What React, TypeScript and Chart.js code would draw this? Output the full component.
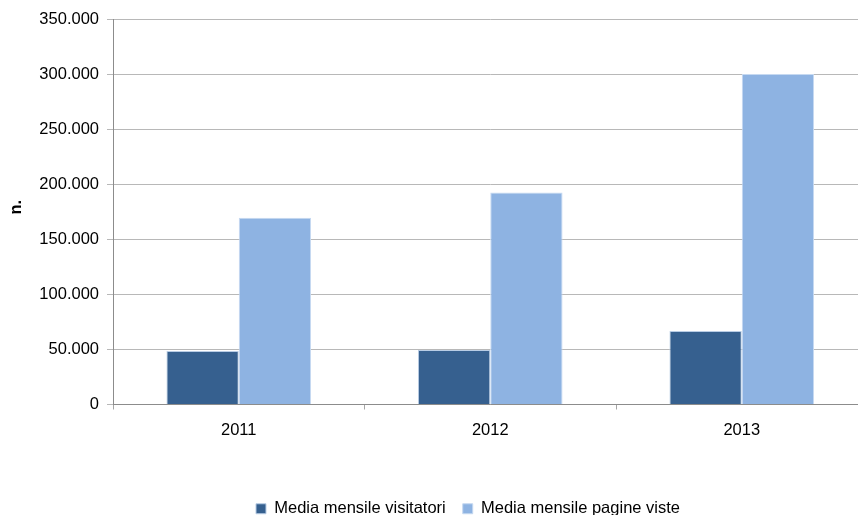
import React, { useEffect, useRef } from "react";
import { Chart, registerables } from "chart.js";

Chart.register(...registerables);

const categories = ["2011", "2012", "2013"];
const visitatori = [48500, 49500, 66700];
const pagineViste = [169500, 192500, 300000];
const seriesNames = ["Media mensile visitatori", "Media mensile pagine viste"];
const yTicks = [0, 50000, 100000, 150000, 200000, 250000, 300000, 350000];

const fmt = (v: number) => String(v).replace(/\B(?=(\d{3})+(?!\d))/g, ".");

export default function App() {
  const ref = useRef<HTMLCanvasElement | null>(null);
  useEffect(() => {
    if (!ref.current) return;
    const font = { family: "'Liberation Sans', Arial, sans-serif", size: 16.5 };
    const chart = new Chart(ref.current, {
      type: "bar",
      data: {
        labels: categories,
        datasets: [
          {
            label: seriesNames[0],
            data: visitatori,
            backgroundColor: "#36608F",
            borderColor: "#B9CDE5",
            borderWidth: 1,
            yAxisID: "y",
          },
          {
            label: seriesNames[1],
            data: pagineViste,
            backgroundColor: "#8EB3E2",
            borderColor: "#C6D9F1",
            borderWidth: 1,
            yAxisID: "y",
          },
        ],
      },
      options: {
        responsive: false,
        animation: false,
        layout: { padding: { top: 19, left: 0, right: 0, bottom: 0 } },
        datasets: { bar: { categoryPercentage: 0.575, barPercentage: 1.0 } },
        plugins: {
          legend: {
            position: "bottom",
            labels: {
              font,
              color: "#000",
              boxWidth: 10,
              boxHeight: 10,
              padding: 17,
            },
          },
          tooltip: { enabled: false },
        },
        scales: {
          x: {
            offset: true,
            grid: {
              offset: true,
              drawOnChartArea: false,
              drawTicks: true,
              tickLength: 5,
              color: "#A6A6A6",
            },
            border: { color: "#8C8C8C" },
            ticks: { font, color: "#000", padding: 11 },
            afterFit: (s: any) => {
              s.height = 79;
            },
          },
          y: {
            min: 0,
            max: 350000,
            afterBuildTicks: (s: any) => {
              s.ticks = yTicks.map((v) => ({ value: v }));
            },
            grid: { color: "#B8B8B8", tickLength: 6 },
            border: { color: "#8C8C8C" },
            ticks: {
              font,
              color: "#000",
              padding: 8,
              callback: (v: any) => fmt(Number(v)),
            },
            title: {
              display: true,
              text: "  n.",
              font: { ...font, weight: "bold" },
              color: "#000",
              padding: 7,
            },
            afterFit: (s: any) => {
              s.width = 113;
            },
          },
          y2: {
            position: "right",
            display: true,
            grid: { display: false, drawTicks: false },
            border: { display: false },
            ticks: { display: false },
            afterFit: (s: any) => {
              s.width = 68.5;
            },
          },
        },
      },
    } as any);
    return () => chart.destroy();
  }, []);
  return (
    <div
      style={{
        position: "absolute",
        left: 0,
        top: 0,
        width: 858,
        height: 515,
        overflow: "hidden",
        background: "#fff",
      }}
    >
      <canvas ref={ref} width={936} height={527} style={{ display: "block" }} />
    </div>
  );
}
